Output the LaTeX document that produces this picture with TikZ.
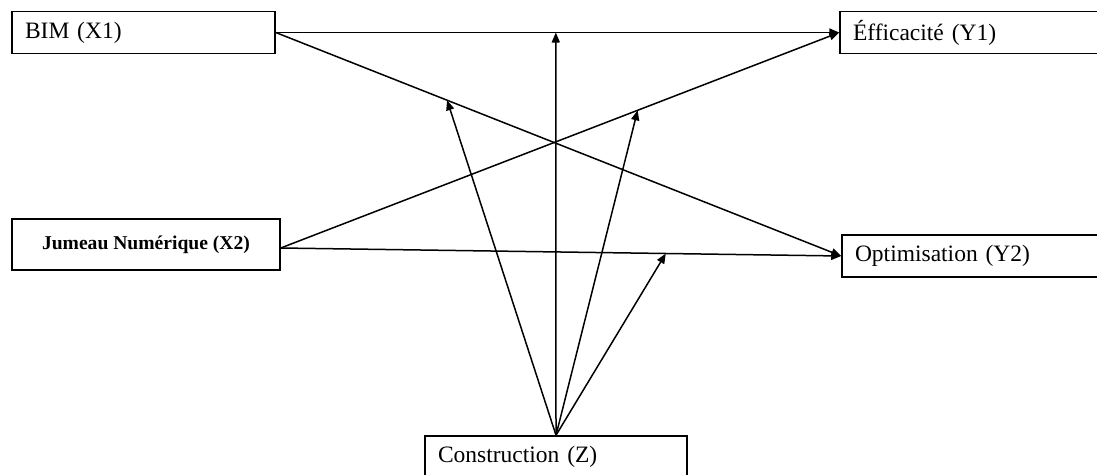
\documentclass[tikz,border=0pt]{standalone}
\usepackage{fontspec}
\setmainfont{Liberation Serif}
\usetikzlibrary{arrows.meta}
\begin{document}
\begin{tikzpicture}[x=1pt,y=-1pt,
  box/.style={draw=black, line width=1.5pt, rectangle, minimum height=42pt, inner xsep=13pt, inner ysep=0pt,
     font=\fontsize{23.5pt}{28pt}\selectfont, align=left},
  conn/.style={line width=1.5pt, -{Triangle[length=10pt,width=8pt]}}]
\clip (0,0) rectangle (1097,474);
\fill[white] (0,0) rectangle (1097,474);
\node[box, minimum width=263pt, text width=237pt] (bim) at (143.5,32.5) {BIM (X1)};
\node[box, minimum width=270pt, text width=244pt] (eff) at (975,32.5) {Éfficacité (Y1)};
\node[box, minimum width=268pt, minimum height=51pt, align=center, font=\fontsize{19.6pt}{24pt}\selectfont\bfseries] (jum) at (146,244.5) {Jumeau Numérique (X2)};
\node[box, minimum width=268pt, text width=242pt] (opt) at (976,256) {Optimisation (Y2)};
\node[box, minimum width=262pt, text width=236pt] (con) at (556,457) {Construction (Z)};
\draw[conn] (bim.east) -- coordinate[pos=0.497] (p1) (eff.west);
\draw[conn] (bim.east) -- coordinate[pos=0.303] (p2) (opt.west);
\draw[conn] ([yshift=-3.5pt]jum.east) -- coordinate[pos=0.639] (p3) (eff.west);
\draw[conn] ([yshift=-3.5pt]jum.east) -- coordinate[pos=0.687] (p4) (opt.west);
\draw[conn] (con.north) -- (p1);
\draw[conn] (con.north) -- (p2);
\draw[conn] (con.north) -- (p3);
\draw[conn] (con.north) -- (p4);
\end{tikzpicture}
\end{document}
